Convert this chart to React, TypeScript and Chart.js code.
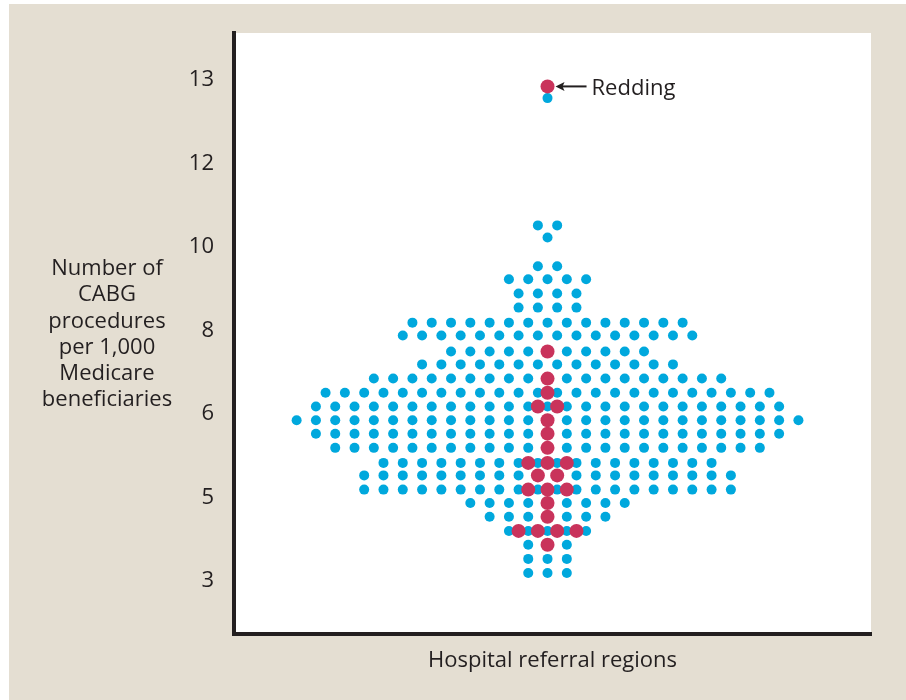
import React, { useEffect, useRef } from 'react';
import { Chart, registerables } from 'chart.js';

Chart.register(...registerables);

// Axis tick labels (as printed, evenly spaced on the axis)
const TICK_LABELS = [3, 5, 6, 8, 10, 12, 13];
// One entry per swarm row (bottom to top): rate, number of blue regions, number of red regions
const ROW_RATES = [3.14, 3.48, 3.82, 4.15, 4.49, 4.82, 5.07, 5.24, 5.39, 5.57, 5.74, 5.9, 6.13, 6.46, 6.8, 7.14, 7.45, 7.83, 8.14, 8.5, 8.84, 9.18, 9.49, 10.18, 10.47, 12.76, 12.9];
const BLUE_COUNTS = [3, 3, 3, 5, 7, 9, 20, 20, 18, 23, 25, 27, 25, 24, 19, 14, 11, 16, 15, 4, 4, 5, 2, 1, 2, 1, 0];
const RED_COUNTS = [0, 0, 1, 4, 1, 1, 3, 2, 3, 1, 1, 1, 2, 1, 1, 0, 1, 0, 0, 0, 0, 0, 0, 0, 0, 0, 1];
const HIGHLIGHT_LABEL = 'Redding';
const Y_TITLE_LINES = ['Number of', 'CABG', 'procedures', 'per 1,000', 'Medicare', 'beneficiaries'];
const X_TITLE = 'Hospital referral regions';

const BLUE = '#00a8dd';
const RED = '#c9335b';
const INK = '#231f20';
const BEIGE = '#e4ded2';
const FONT = '"Open Sans", "Noto Sans", sans-serif';

function rateToPos(v: number): number {
  for (let i = 0; i < TICK_LABELS.length - 1; i++) {
    if (v <= TICK_LABELS[i + 1]) {
      return i + (v - TICK_LABELS[i]) / (TICK_LABELS[i + 1] - TICK_LABELS[i]);
    }
  }
  return TICK_LABELS.length - 1;
}

// beeswarm layout: n dots centered around 0, one dot-width (2 units) apart
function swarm(n: number): number[] {
  const out: number[] = [];
  for (let i = 0; i < n; i++) out.push((i - (n - 1) / 2) * 2);
  return out;
}

function buildPoints(counts: number[]) {
  const pts: { x: number; y: number }[] = [];
  counts.forEach((n, r) => {
    const y = rateToPos(ROW_RATES[r]);
    swarm(n).forEach((x) => pts.push({ x, y }));
  });
  return pts;
}

export default function App() {
  const ref = useRef<HTMLCanvasElement | null>(null);

  useEffect(() => {
    if (!ref.current) return;
    const bluePts = buildPoints(BLUE_COUNTS);
    const redPts = buildPoints(RED_COUNTS);
    let hiIdx = 0;
    redPts.forEach((p, i) => {
      if (p.y > redPts[hiIdx].y) hiIdx = i;
    });

    const decor = {
      id: 'decor',
      beforeDraw(chart: any) {
        const { ctx, chartArea: a } = chart;
        ctx.save();
        ctx.fillStyle = '#ffffff';
        ctx.fillRect(a.left, a.top, a.right - a.left, a.bottom - a.top);
        ctx.restore();
      },
      afterDraw(chart: any) {
        const { ctx, chartArea: a } = chart;
        ctx.save();
        ctx.fillStyle = INK;
        ctx.strokeStyle = INK;
        ctx.font = `22px ${FONT}`;
        ctx.textAlign = 'center';
        ctx.textBaseline = 'middle';
        Y_TITLE_LINES.forEach((t, i) => ctx.fillText(t, 98, 265 + i * 26.2));
        ctx.fillText(X_TITLE, (a.left + a.right) / 2, 657);

        const el = chart.getDatasetMeta(0).data[hiIdx];
        if (el) {
          const px = el.x;
          const py = el.y;
          ctx.lineWidth = 2;
          ctx.beginPath();
          ctx.moveTo(px + 14, py);
          ctx.lineTo(px + 39, py);
          ctx.stroke();
          ctx.beginPath();
          ctx.moveTo(px + 8, py);
          ctx.lineTo(px + 17, py - 4.5);
          ctx.lineTo(px + 15, py);
          ctx.lineTo(px + 17, py + 4.5);
          ctx.closePath();
          ctx.fill();
          ctx.textAlign = 'left';
          ctx.fillText(HIGHLIGHT_LABEL, px + 44, py + 2);
        }
        ctx.restore();
      },
    };

    const chart = new Chart(ref.current, {
      type: 'scatter',
      data: {
        datasets: [
          {
            label: 'Highlighted',
            data: redPts,
            backgroundColor: RED,
            borderWidth: 0,
            pointRadius: 7,
            order: 0,
          },
          {
            label: 'Hospital referral regions',
            data: bluePts,
            backgroundColor: BLUE,
            borderWidth: 0,
            pointRadius: 5,
            order: 1,
          },
        ],
      },
      options: {
        responsive: false,
        animation: false,
        events: [],
        layout: { padding: { top: 29, right: 35, bottom: 0, left: 0 } },
        plugins: { legend: { display: false }, tooltip: { enabled: false } },
        scales: {
          x: {
            type: 'linear',
            min: -32.49,
            max: 33.52,
            ticks: { display: false },
            grid: { display: false },
            border: { display: true, width: 4, color: INK },
            afterFit: (s: any) => {
              s.height = 66;
            },
          },
          y: {
            type: 'linear',
            min: -0.66,
            max: 6.54,
            grid: { display: false },
            border: { display: true, width: 4, color: INK },
            afterBuildTicks: (s: any) => {
              s.ticks = TICK_LABELS.map((_, i) => ({ value: i }));
            },
            ticks: {
              padding: 12,
              labelOffset: 2,
              color: INK,
              font: { size: 22, family: FONT },
              callback: (v: any) => String(TICK_LABELS[Math.round(Number(v))] ?? ''),
            },
            afterFit: (s: any) => {
              s.width = 225;
            },
          },
        },
      },
      plugins: [decor],
    });
    return () => chart.destroy();
  }, []);

  return (
    <div
      style={{
        position: 'absolute',
        left: 9,
        top: 4,
        width: 897,
        height: 696,
        background: BEIGE,
      }}
    >
      <canvas ref={ref} width={897} height={696} style={{ display: 'block' }} />
    </div>
  );
}
